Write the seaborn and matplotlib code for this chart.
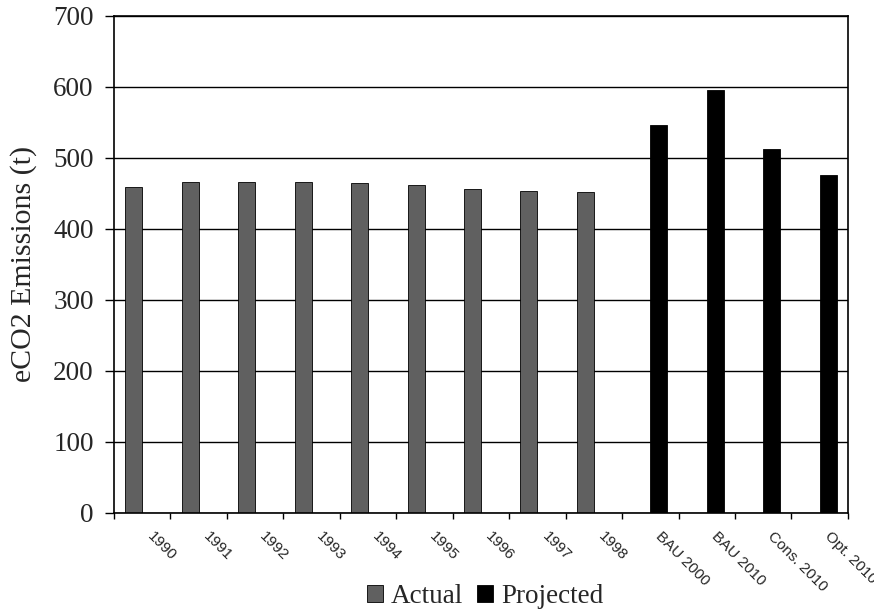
import matplotlib
matplotlib.use("Agg")
import matplotlib.pyplot as plt
import matplotlib.transforms as mtransforms
from matplotlib.patches import Patch
from matplotlib.ticker import FixedLocator
import numpy as np
import pandas as pd
import seaborn as sns

# Emission periods and values (tonnes eCO2)
actual_years = ["1990", "1991", "1992", "1993", "1994", "1995", "1996", "1997", "1998"]
actual_values = [459, 466, 466, 466, 465, 462, 456, 453, 452]
projected_labels = ["BAU 2000", "BAU 2010", "Cons. 2010", "Opt. 2010"]
projected_values = [547, 595, 512, 476]

series_names = ["Actual", "Projected"]
series_colors = {"Actual": "#606060", "Projected": "#000000"}
y_ticks = [0, 100, 200, 300, 400, 500, 600, 700]

categories = actual_years + projected_labels
df = pd.DataFrame({
    "period": categories,
    "series": ["Actual"] * len(actual_years) + ["Projected"] * len(projected_labels),
    "value": actual_values + projected_values,
})

sns.set_theme(style="white")
serif = ["Liberation Serif", "DejaVu Serif"]
sans = ["Liberation Sans", "DejaVu Sans"]

fig = plt.figure(figsize=(8.74, 6.12), dpi=100)
ax = fig.add_axes([0.1304, 0.1623, 0.8398, 0.8116])

sns.barplot(data=df, x="period", y="value", hue="series", order=categories,
            hue_order=series_names, palette=series_colors, width=0.6, dodge=True,
            saturation=1, edgecolor="black", linewidth=0.6, legend=False, ax=ax)

ax.set_xlim(-0.5, len(categories) - 0.5)
ax.set_ylim(0, 700)
ax.set_yticks(y_ticks)
ax.set_yticklabels([str(t) for t in y_ticks], fontfamily=serif, fontsize=19.5)
ax.yaxis.grid(True, color="black", linewidth=1.0)
ax.set_axisbelow(True)
ax.tick_params(axis="y", direction="out", length=6.5, width=1.0, color="black", pad=8, left=True)

ax.set_xlabel("")
ax.set_ylabel("eCO2 Emissions (t)", fontfamily=serif, fontsize=21.5, labelpad=12)

# category boundaries get the tick marks; labels sit at the category centres
ax.xaxis.set_minor_locator(FixedLocator(np.arange(-0.5, len(categories), 1.0)))
ax.tick_params(axis="x", which="minor", direction="out", length=4, width=1.0, color="black", bottom=True)
ax.tick_params(axis="x", which="major", length=0, pad=12)
ax.set_xticks(range(len(categories)))
ax.set_xticklabels(categories, rotation=-45, ha="left", va="top", rotation_mode="anchor",
                   fontfamily=sans, fontsize=11)
shift = mtransforms.ScaledTranslation(0.12, 0, fig.dpi_scale_trans)
for lbl in ax.get_xticklabels():
    lbl.set_transform(lbl.get_transform() + shift)

for side in ["left", "right", "top", "bottom"]:
    ax.spines[side].set_visible(True)
    ax.spines[side].set_color("black")
    ax.spines[side].set_linewidth(1.2)

handles = [Patch(facecolor=series_colors[s], edgecolor="black", linewidth=0.6) for s in series_names]
fig.legend(handles, series_names, loc="lower center", bbox_to_anchor=(0.555, -0.035), ncol=2,
           frameon=False, prop={"family": serif, "size": 19.5}, handlelength=0.6, handleheight=0.6,
           handletextpad=0.3, columnspacing=0.5)

fig.savefig("out.png", dpi=100)
